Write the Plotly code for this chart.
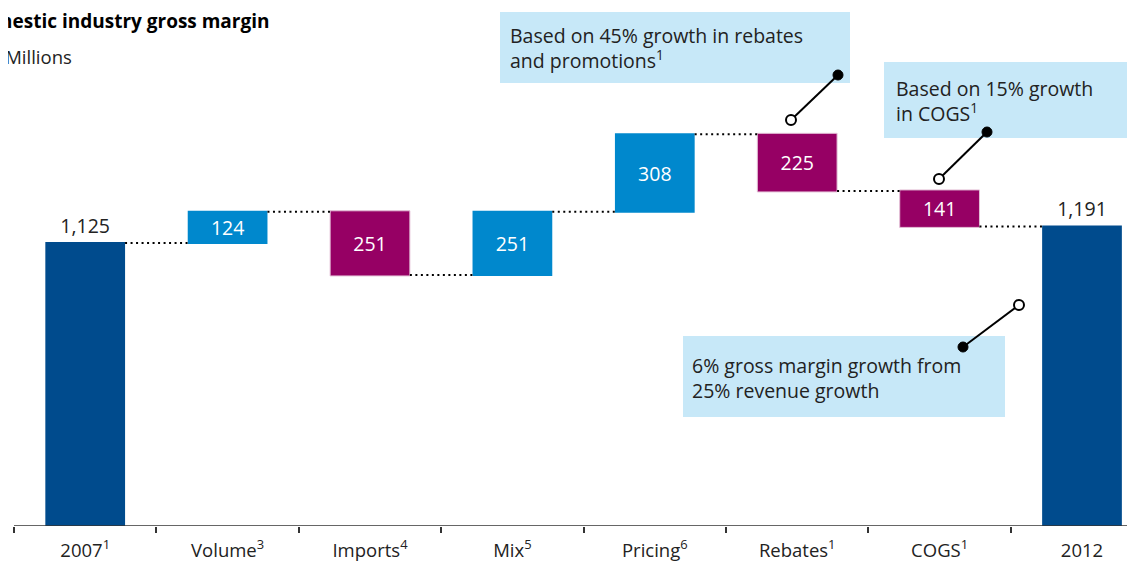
import plotly.graph_objects as go

# Domestic industry gross margin bridge, 2007 -> 2012 ($ millions)
categories = ["2007<sup>1</sup>", "Volume<sup>3</sup>", "Imports<sup>4</sup>", "Mix<sup>5</sup>",
              "Pricing<sup>6</sup>", "Rebates<sup>1</sup>", "COGS<sup>1</sup>", "2012"]
measures = ["absolute", "relative", "relative", "relative", "relative", "relative", "relative", "total"]
changes = [1125, 124, -251, 251, 308, -225, -141, 0]

total_2012 = sum(changes[:-1])
bar_text = [f"{abs(v):,}" for v in changes[:-1]] + [f"{total_2012:,}"]
text_pos = ["outside"] + ["inside"] * 6 + ["outside"]

FONT = "Open Sans"
DARK = "#222222"

# page pixels -> paper coords (the page body adds an 8px offset)
OFF = 8
W = 1135
H_PLOT = 526 - OFF  # plot area bottom (x axis) in figure pixels


def px(x):
    return (x - OFF) / W


def py(y):
    return (H_PLOT - (y - OFF)) / H_PLOT


# category i is centred at page x = 85.2 + 142.4 * i
step = 142.4
x_lo = -(85.2 - OFF) / step
x_hi = x_lo + W / step
# 1125 units = 283 px
y_hi = H_PLOT / (283 / 1125)

fig = go.Figure(go.Waterfall(
    x=categories,
    y=changes,
    measure=measures,
    text=bar_text,
    textposition=text_pos,
    insidetextanchor="middle",
    constraintext="none",
    cliponaxis=False,
    insidetextfont=dict(family=FONT, size=19.5, color="white"),
    outsidetextfont=dict(family=FONT, size=19.5, color=DARK),
    totals=dict(marker=dict(color="#004b8d")),
    increasing=dict(marker=dict(color="#0088cd")),
    decreasing=dict(marker=dict(color="#960064", line=dict(color="#e3bfd6", width=1))),
    connector=dict(mode="between", line=dict(color="black", width=2, dash="2px,3.5px")),
    hoverinfo="skip",
))

shapes = []
annotations = []

# x axis line, starting at the first category boundary
shapes.append(dict(type="line", xref="x", yref="y", x0=-0.5, x1=7.5, y0=0, y1=0,
                   line=dict(color="#333333", width=1.5)))

# callouts: box, text, leader line with filled and hollow ends
callouts = [
    dict(box=(500, 12, 850, 83), text="Based on 45% growth in rebates<br>and promotions<sup>1</sup>",
         tx=508, ty=48, dot=(838, 75), ring=(791, 120)),
    dict(box=(884, 62, 1150, 138), text="Based on 15% growth<br>in COGS<sup>1</sup>",
         tx=894, ty=101, dot=(987, 132), ring=(939, 179)),
    dict(box=(683, 336, 1005, 417), text="6% gross margin growth from<br>25% revenue growth",
         tx=690, ty=378, dot=(963, 347), ring=(1019, 305)),
]

for c in callouts:
    x0, y0, x1, y1 = c["box"]
    shapes.append(dict(type="rect", xref="paper", yref="paper", x0=px(x0), x1=px(x1),
                       y0=py(y1), y1=py(y0), fillcolor="#c7e8f8", line=dict(width=0), layer="below"))
    annotations.append(dict(xref="paper", yref="paper", x=px(c["tx"]), y=py(c["ty"]),
                            xanchor="left", yanchor="middle", align="left", showarrow=False,
                            text=c["text"], font=dict(family=FONT, size=19.5, color=DARK)))
    (dx, dy), (rx, ry) = c["dot"], c["ring"]
    shapes.append(dict(type="line", xref="paper", yref="paper", x0=px(dx), y0=py(dy),
                       x1=px(rx), y1=py(ry), line=dict(color="black", width=2)))
    r = 5
    shapes.append(dict(type="circle", xref="paper", yref="paper", x0=px(dx - r), x1=px(dx + r),
                       y0=py(dy + r), y1=py(dy - r), fillcolor="black", line=dict(color="black", width=1)))
    shapes.append(dict(type="circle", xref="paper", yref="paper", x0=px(rx - r), x1=px(rx + r),
                       y0=py(ry + r), y1=py(ry - r), fillcolor="white", line=dict(color="black", width=2)))

# title and unit, cropped at the left edge like the source
annotations.append(dict(xref="paper", yref="paper", x=px(272), y=py(21), xanchor="right", yanchor="middle",
                        showarrow=False, text="<b>Domestic industry gross margin</b>",
                        font=dict(family=FONT, size=19, color="black")))
annotations.append(dict(xref="paper", yref="paper", x=px(74), y=py(56), xanchor="right", yanchor="middle",
                        showarrow=False, text="$  Millions",
                        font=dict(family=FONT, size=18.5, color=DARK)))

fig.update_layout(
    width=1135,
    height=561,
    margin=dict(l=0, r=0, t=0, b=561 - H_PLOT),
    paper_bgcolor="white",
    plot_bgcolor="white",
    showlegend=False,
    waterfallgap=0.44,
    shapes=shapes,
    annotations=annotations,
    xaxis=dict(range=[x_lo, x_hi], showgrid=False, showline=False, zeroline=False,
               ticks="outside", tickson="boundaries", ticklen=6, tickwidth=1.5, tickcolor="#333333",
               ticklabelstandoff=11, tickfont=dict(family=FONT, size=18.5, color=DARK), fixedrange=True),
    yaxis=dict(range=[0, y_hi], visible=False, fixedrange=True),
)

fig.write_html("out.html")
